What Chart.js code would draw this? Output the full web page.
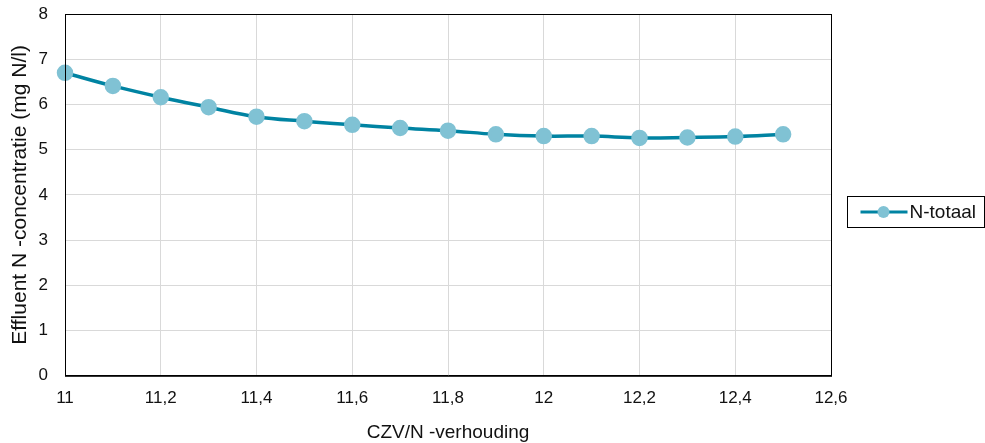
<!DOCTYPE html>
<html>
<head>
<meta charset="utf-8">
<script src="https://cdn.jsdelivr.net/npm/chart.js@4"></script>
<style>
  html, body { margin: 0; padding: 0; background: #fff; }
  #wrap { width: 985px; height: 443px; }
</style>
</head>
<body>
<div id="wrap"><canvas id="myChart" width="985" height="443"></canvas></div>
<script>
const ratios = [11.0, 11.1, 11.2, 11.3, 11.4, 11.5, 11.6, 11.7, 11.8, 11.9, 12.0, 12.1, 12.2, 12.3, 12.4, 12.5];
const nTotaal = [6.70, 6.41, 6.16, 5.94, 5.73, 5.63, 5.55, 5.48, 5.42, 5.34, 5.30, 5.30, 5.26, 5.27, 5.29, 5.34];
const seriesLabel = "N-totaal";
const xTitle = "CZV/N -verhouding";
const yTitle = "Effluent N -concentratie (mg N/l)";

const lineColor = "#0083a2";
const pointColor = "#80c2d4";
const font = "'Liberation Sans', Arial, sans-serif";

// kader om het plotgebied + legenda met rand
const frameAndLegend = {
  id: "frameAndLegend",
  afterDraw(chart) {
    const { ctx, chartArea: a } = chart;
    ctx.save();
    ctx.strokeStyle = "#000";
    ctx.lineWidth = 1;
    ctx.strokeRect(a.left + 0.5, a.top + 0.5, a.right - a.left, a.bottom - a.top);

    // legenda
    const lx = 847.5, ly = 196.5, lw = 137, lh = 31;
    ctx.strokeRect(lx, ly, lw, lh);
    const cy = ly + lh / 2;
    ctx.strokeStyle = lineColor;
    ctx.lineWidth = 3;
    ctx.beginPath();
    ctx.moveTo(lx + 13, cy);
    ctx.lineTo(lx + 60, cy);
    ctx.stroke();
    ctx.fillStyle = pointColor;
    ctx.beginPath();
    ctx.arc(lx + 36, cy, 6, 0, Math.PI * 2);
    ctx.fill();
    ctx.fillStyle = "#111";
    ctx.font = "19px " + font;
    ctx.textBaseline = "middle";
    ctx.textAlign = "left";
    ctx.fillText(seriesLabel, lx + 62, cy + 1);
    ctx.restore();
  },
};

const ctx = document.getElementById("myChart").getContext("2d");
new Chart(ctx, {
  type: "line",
  data: {
    datasets: [
      {
        label: seriesLabel,
        data: ratios.map((x, i) => ({ x: x, y: nTotaal[i] })),
        borderColor: lineColor,
        backgroundColor: pointColor,
        pointBackgroundColor: pointColor,
        pointBorderColor: pointColor,
        pointRadius: 6.5,
        borderWidth: 3.5,
        tension: 0.4,
        fill: false,
        clip: false,
      },
    ],
  },
  options: {
    responsive: false,
    animation: false,
    layout: { padding: { left: 8, right: 154, top: 14, bottom: -1 } },
    plugins: {
      legend: { display: false },
      tooltip: { enabled: false },
    },
    scales: {
      x: {
        type: "linear",
        min: 11,
        max: 12.6,
        ticks: {
          stepSize: 0.2,
          color: "#111",
          font: { family: font, size: 17 },
          padding: 12,
          maxRotation: 0,
          callback: (v) => Number(v.toFixed(1)).toString().replace(".", ","),
        },
        grid: { color: "#d9d9d9", drawTicks: false },
        border: { color: "#000" },
        title: {
          display: true,
          text: xTitle,
          color: "#111",
          font: { family: font, size: 19 },
          padding: { top: 1, bottom: 0 },
        },
      },
      y: {
        min: 0,
        max: 8,
        afterFit: (scale) => {
          scale.width = 57;
          scale.paddingTop = 0;
        },
        ticks: {
          stepSize: 1,
          color: "#111",
          font: { family: font, size: 17 },
          padding: 17,
        },
        grid: { color: "#d9d9d9", drawTicks: false },
        border: { color: "#000" },
        title: {
          display: true,
          text: yTitle,
          color: "#111",
          font: { family: font, size: 21 },
          padding: { top: 0, bottom: 0 },
        },
      },
    },
  },
  plugins: [frameAndLegend],
});
</script>
</body>
</html>
